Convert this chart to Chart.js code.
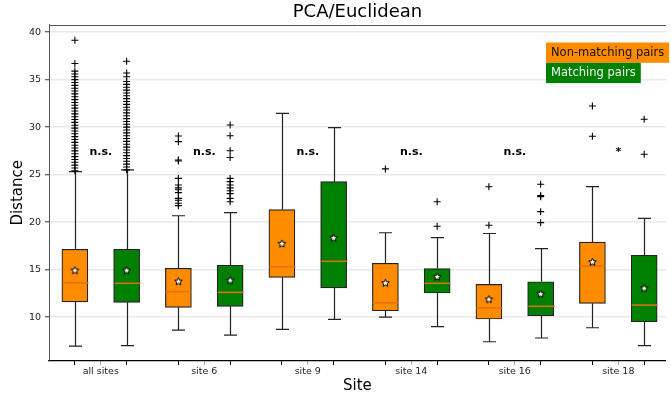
<!DOCTYPE html>
<html>
<head>
<meta charset="utf-8">
<script src="https://cdn.jsdelivr.net/npm/chart.js@4.4.1/dist/chart.umd.min.js"></script>
<style>
  html, body { margin: 0; padding: 0; background: #fff; }
</style>
</head>
<body>
<canvas id="chart" width="671" height="401"></canvas>
<script>
// categories
const sites = ['all sites', 'site 6', 'site 9', 'site 14', 'site 16', 'site 18'];
const seriesNames = ['Non-matching pairs', 'Matching pairs'];

// non-matching pairs (orange)
const nmLow    = [6.94, 8.63, 8.70, 10.00, 7.40, 8.87];
const nmQ1     = [11.60, 11.02, 14.18, 10.66, 9.79, 11.44];
const nmMedian = [13.60, 12.67, 15.30, 11.50, 10.98, 15.37];
const nmQ3     = [17.13, 15.13, 21.31, 15.66, 13.44, 17.90];
const nmHigh   = [25.31, 20.67, 31.46, 18.88, 18.80, 23.73];
const nmMean   = [14.95, 13.79, 17.76, 13.62, 11.90, 15.83];
const nmOutliers = [
  [25.4, 25.7, 26.0, 26.3, 26.6, 26.9, 27.2, 27.5, 27.8, 28.1, 28.4, 28.7, 29.0, 29.3, 29.6,
   29.9, 30.2, 30.5, 30.8, 31.1, 31.4, 31.7, 32.0, 32.3, 32.6, 32.9, 33.2, 33.5, 33.8, 34.1,
   34.4, 34.7, 35.0, 35.3, 35.6, 35.9, 36.7, 39.15],
  [21.73, 21.98, 22.3, 22.5, 23.1, 23.4, 23.6, 23.9, 24.6, 26.44, 26.54, 28.47, 29.07],
  [],
  [25.6],
  [19.66, 23.73],
  [29.04, 32.23]
];

// matching pairs (green)
const mLow    = [6.98, 8.10, 9.75, 8.98, 7.79, 6.98];
const mQ1     = [11.55, 11.13, 13.06, 12.53, 10.14, 9.50];
const mMedian = [13.55, 12.60, 15.87, 13.55, 11.13, 11.26];
const mQ3     = [17.13, 15.45, 24.26, 15.10, 13.72, 16.50];
const mHigh   = [25.49, 20.99, 29.95, 18.36, 17.20, 20.40];
const mMean   = [14.95, 13.90, 18.36, 14.28, 12.46, 13.06];
const mOutliers = [
  [25.5, 25.8, 26.1, 26.4, 26.7, 27.0, 27.3, 27.6, 27.9, 28.2, 28.5, 28.8, 29.1, 29.4, 29.7,
   30.0, 30.3, 30.6, 30.9, 31.2, 31.5, 31.8, 32.1, 32.4, 32.7, 33.0, 33.3, 33.6, 33.9, 34.2,
   34.5, 34.8, 35.3, 35.7, 36.94],
  [22.15, 22.5, 23.0, 23.3, 23.6, 23.9, 24.26, 24.6, 26.8, 27.52, 29.1, 30.23],
  [],
  [19.56, 22.15],
  [19.94, 21.1, 22.68, 22.8, 23.98],
  [27.14, 30.83]
];

// significance labels between each pair
const sigText  = ['n.s.', 'n.s.', 'n.s.', 'n.s.', 'n.s.', '*'];
const sigLevel = 27.35;

const yTicks = [10, 15, 20, 25, 30, 35, 40];

const ORANGE = '#ff8c00';
const GREEN = '#008000';
const MEDIAN_COLOR = '#e0700a';
const BOX_W = 26;

// box positions: pair i sits at 2i+1 (non-matching) and 2i+2 (matching)
const posNM = sites.map((s, i) => 2 * i + 1);
const posM = sites.map((s, i) => 2 * i + 2);

const boxStats = [
  { pos: posNM, low: nmLow, q1: nmQ1, med: nmMedian, q3: nmQ3, high: nmHigh },
  { pos: posM, low: mLow, q1: mQ1, med: mMedian, q3: mQ3, high: mHigh }
];

function outlierPoints(pos, lists) {
  const pts = [];
  lists.forEach((arr, i) => arr.forEach(v => pts.push({ x: pos[i], y: v })));
  return pts;
}

function makeStar(r) {
  const c = document.createElement('canvas');
  const s = Math.ceil(r * 2 + 3);
  c.width = c.height = s;
  const g = c.getContext('2d');
  g.translate(s / 2, s / 2 + 0.5);
  g.beginPath();
  for (let k = 0; k < 10; k++) {
    const rad = k % 2 === 0 ? r : r * 0.45;
    const a = -Math.PI / 2 + k * Math.PI / 5;
    g.lineTo(rad * Math.cos(a), rad * Math.sin(a));
  }
  g.closePath();
  g.fillStyle = '#fff';
  g.fill();
  g.lineWidth = 1;
  g.strokeStyle = '#000';
  g.stroke();
  return c;
}
const star = makeStar(4);

const xTickValues = [];
sites.forEach((s, i) => { xTickValues.push(2 * i + 1, 2 * i + 1.5, 2 * i + 2); });

// whiskers, caps and medians drawn right after each box dataset
const boxExtras = {
  id: 'boxExtras',
  afterDatasetDraw(chart, args) {
    const st = boxStats[args.index];
    if (!st) return;
    const { ctx, scales: { x, y } } = chart;
    const half = BOX_W / 2;
    ctx.save();
    st.pos.forEach((p, i) => {
      const cx = Math.round(x.getPixelForValue(p)) + 0.5;
      const yl = y.getPixelForValue(st.low[i]);
      const y1 = y.getPixelForValue(st.q1[i]);
      const y3 = y.getPixelForValue(st.q3[i]);
      const yh = y.getPixelForValue(st.high[i]);
      const ym = y.getPixelForValue(st.med[i]);
      ctx.strokeStyle = '#222';
      ctx.lineWidth = 1.2;
      ctx.beginPath();
      ctx.moveTo(cx, y1); ctx.lineTo(cx, yl);
      ctx.moveTo(cx - half / 2, yl); ctx.lineTo(cx + half / 2, yl);
      ctx.moveTo(cx, y3); ctx.lineTo(cx, yh);
      ctx.moveTo(cx - half / 2, yh); ctx.lineTo(cx + half / 2, yh);
      ctx.stroke();
      ctx.strokeStyle = MEDIAN_COLOR;
      ctx.lineWidth = 1.5;
      ctx.beginPath();
      ctx.moveTo(cx - half, ym); ctx.lineTo(cx + half, ym);
      ctx.stroke();
    });
    ctx.restore();
  },
  afterDraw(chart) {
    const { ctx, chartArea, scales: { x, y } } = chart;
    ctx.save();
    // top spine
    ctx.strokeStyle = '#555';
    ctx.lineWidth = 1;
    ctx.beginPath();
    ctx.moveTo(chartArea.left, Math.round(chartArea.top) + 0.5);
    ctx.lineTo(chartArea.right, Math.round(chartArea.top) + 0.5);
    ctx.stroke();

    // significance labels
    ctx.fillStyle = '#000';
    ctx.font = 'bold 11px "DejaVu Sans"';
    ctx.textAlign = 'center';
    ctx.textBaseline = 'middle';
    sigText.forEach((t, i) => {
      ctx.fillText(t, x.getPixelForValue(2 * i + 1.5), y.getPixelForValue(sigLevel));
    });

    // legend
    ctx.font = '11.5px "DejaVu Sans"';
    ctx.textAlign = 'left';
    const lx = 546, ly = 42.5, h = 20.3, pad = 5;
    const colors = [ORANGE, GREEN];
    const txt = ['#111', '#f4f4f4'];
    seriesNames.forEach((n, i) => {
      const w = ctx.measureText(n).width + pad * 2;
      ctx.fillStyle = colors[i];
      ctx.fillRect(lx, ly + i * h, w, h);
      ctx.fillStyle = txt[i];
      ctx.fillText(n, lx + pad, ly + i * h + h / 2 + 0.5);
    });
    ctx.restore();
  }
};

Chart.defaults.font.family = '"DejaVu Sans"';
Chart.defaults.color = '#222';

new Chart(document.getElementById('chart'), {
  type: 'bar',
  data: {
    datasets: [
      {
        label: seriesNames[0],
        data: posNM.map((p, i) => ({ x: p, y: [nmQ1[i], nmQ3[i]] })),
        backgroundColor: ORANGE,
        borderColor: '#222',
        borderWidth: 1.2,
        borderSkipped: false,
        barThickness: BOX_W,
        grouped: false,
        order: 2
      },
      {
        label: seriesNames[1],
        data: posM.map((p, i) => ({ x: p, y: [mQ1[i], mQ3[i]] })),
        backgroundColor: GREEN,
        borderColor: '#222',
        borderWidth: 1.2,
        borderSkipped: false,
        barThickness: BOX_W,
        grouped: false,
        order: 2
      },
      {
        type: 'scatter',
        label: 'outliers nm',
        data: outlierPoints(posNM, nmOutliers),
        pointStyle: 'cross',
        radius: 3.5,
        borderColor: '#000',
        borderWidth: 1.1,
        order: 0
      },
      {
        type: 'scatter',
        label: 'outliers m',
        data: outlierPoints(posM, mOutliers),
        pointStyle: 'cross',
        radius: 3.5,
        borderColor: '#000',
        borderWidth: 1.1,
        order: 0
      },
      {
        type: 'scatter',
        label: 'means',
        data: posNM.map((p, i) => ({ x: p, y: nmMean[i] }))
          .concat(posM.map((p, i) => ({ x: p, y: mMean[i] }))),
        pointStyle: star,
        order: 0
      }
    ]
  },
  options: {
    responsive: false,
    animation: false,
    layout: { padding: 0 },
    plugins: {
      legend: { display: false },
      tooltip: { enabled: false },
      title: {
        display: true,
        text: 'PCA/Euclidean',
        color: '#000',
        fullSize: false,
        font: { size: 18, weight: 'normal' },
        padding: { top: 2, bottom: 1 }
      }
    },
    scales: {
      x: {
        type: 'linear',
        min: 0.5,
        max: 12.42,
        offset: false,
        afterFit: s => { s.height = 40; },
        afterBuildTicks: s => { s.ticks = xTickValues.map(v => ({ value: v })); },
        ticks: {
          autoSkip: false,
          maxRotation: 0,
          padding: 1,
          font: { size: 9.5 },
          color: '#222',
          callback: v => (Number.isInteger(v) ? '' : sites[(v - 1.5) / 2])
        },
        grid: {
          offset: false,
          drawOnChartArea: false,
          tickLength: 4,
          tickWidth: 1,
          tickColor: c => (c.tick && Number.isInteger(c.tick.value) ? '#000' : '#aaa')
        },
        border: { color: '#000', width: 1.2 },
        title: {
          display: true,
          text: 'Site',
          color: '#000',
          font: { size: 15 },
          padding: { top: 0, bottom: 6 }
        }
      },
      y: {
        min: 5.37,
        max: 40.8,
        afterFit: s => { s.width = 49; },
        afterBuildTicks: s => { s.ticks = yTicks.map(v => ({ value: v })); },
        ticks: {
          padding: 4,
          font: { size: 9.5 },
          color: '#222'
        },
        grid: {
          color: '#e9e9e9',
          lineWidth: 1.5,
          tickLength: 4,
          tickWidth: 1,
          tickColor: '#333'
        },
        border: { color: '#555', width: 1 },
        title: {
          display: true,
          text: 'Distance',
          color: '#000',
          font: { size: 15 },
          padding: { top: 9, bottom: 0 }
        }
      }
    }
  },
  plugins: [boxExtras]
});
</script>
</body>
</html>
